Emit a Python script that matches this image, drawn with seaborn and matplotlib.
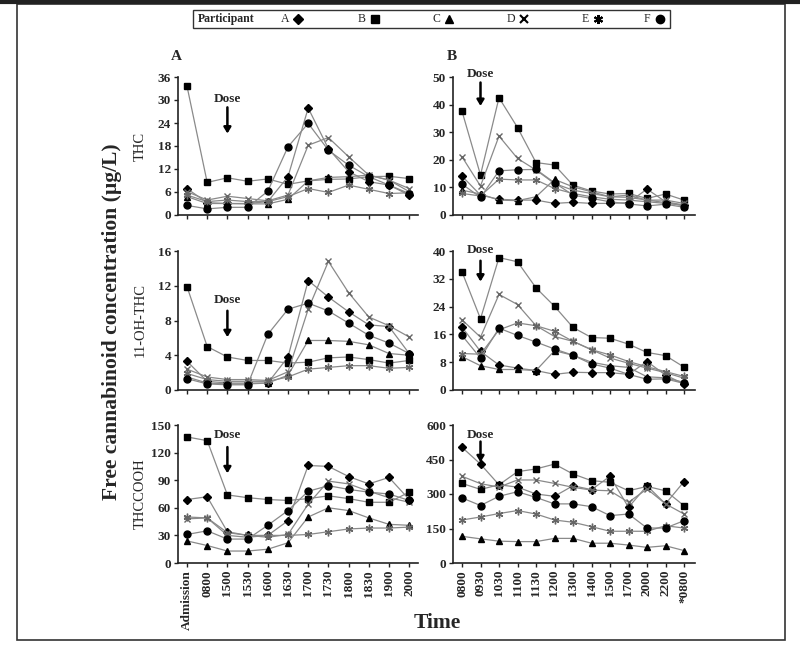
import matplotlib
matplotlib.use("Agg")
import matplotlib.pyplot as plt
from matplotlib.lines import Line2D
from matplotlib.patches import Rectangle
import seaborn as sns
import pandas as pd

sns.set_theme(style="ticks")
plt.rcParams['font.family'] = ['Liberation Serif', 'DejaVu Serif']
plt.rcParams['font.weight'] = 'bold'

participants = ["A", "B", "C", "D", "E", "F"]

times_A = ["Admission", "0800", "1500", "1530", "1600", "1630", "1700",
           "1730", "1800", "1830", "1900", "2000"]
times_B = ["0800", "0930", "1030", "1100", "1130", "1200", "1300", "1400",
           "1500", "1700", "2000", "2200", "*0800"]

# THC, panel A
thc_A = {
    "A": [6.9, 3.2, 3.0, 3.0, 3.5, 10.0, 27.9, 17.3, 11.3, 8.7, 7.8, 5.2],
    "B": [33.6, 8.5, 9.7, 8.8, 9.4, 8.0, 8.9, 9.3, 9.4, 10.0, 10.1, 9.5],
    "C": [4.8, 3.0, 3.0, 2.9, 2.9, 4.1, 8.9, 9.8, 10.0, 10.4, 9.1, 6.1],
    "D": [6.1, 3.9, 4.9, 4.3, 3.7, 5.2, 18.2, 20.2, 15.2, 10.4, 9.1, 6.9],
    "E": [5.2, 3.5, 3.9, 3.5, 3.5, 4.8, 6.9, 5.9, 7.8, 6.7, 5.6, 5.8],
    "F": [2.5, 1.6, 2.0, 2.0, 6.2, 17.8, 23.9, 16.9, 13.0, 10.0, 7.8, 5.6],
}
# THC, panel B
thc_B = {
    "A": [14.1, 7.2, 5.7, 5.4, 5.4, 4.2, 4.6, 4.2, 4.2, 4.5, 9.4, 4.8, 3.6],
    "B": [37.6, 14.5, 42.5, 31.7, 19.0, 18.1, 10.8, 8.7, 7.6, 7.8, 6.0, 7.6, 5.4],
    "C": [9.0, 7.6, 5.4, 5.2, 6.6, 12.9, 10.2, 8.4, 6.6, 7.2, 5.4, 4.5, 3.3],
    "D": [21.1, 10.5, 28.6, 20.5, 16.3, 11.4, 9.0, 7.8, 6.6, 6.4, 5.4, 5.4, 4.2],
    "E": [7.8, 6.9, 13.0, 12.7, 12.7, 9.6, 7.8, 6.6, 5.7, 5.4, 4.8, 4.2, 3.6],
    "F": [11.2, 6.4, 16.0, 16.4, 16.5, 11.7, 7.2, 6.0, 4.8, 4.0, 3.3, 3.9, 2.8],
}
# 11-OH-THC, panel A
oh_A = {
    "A": [3.3, 1.0, 0.8, 0.8, 0.8, 3.8, 12.6, 10.7, 9.0, 7.5, 7.3, 4.2],
    "B": [11.9, 5.0, 3.8, 3.4, 3.4, 3.1, 3.2, 3.7, 3.8, 3.5, 3.1, 3.4],
    "C": [1.5, 0.8, 0.7, 0.7, 0.8, 1.7, 5.7, 5.7, 5.6, 5.2, 4.2, 4.0],
    "D": [2.4, 1.5, 1.2, 1.2, 1.1, 2.1, 9.3, 14.8, 11.2, 8.4, 7.4, 6.1],
    "E": [1.9, 1.2, 1.0, 1.0, 1.0, 1.5, 2.4, 2.6, 2.8, 2.8, 2.5, 2.6],
    "F": [1.3, 0.7, 0.6, 0.6, 6.4, 9.3, 10.0, 9.1, 7.7, 6.3, 5.4, 4.2],
}
# 11-OH-THC, panel B
oh_B = {
    "A": [18.1, 11.1, 7.2, 6.3, 5.6, 4.5, 5.1, 5.0, 5.0, 4.5, 8.2, 4.3, 1.7],
    "B": [34.0, 20.5, 38.1, 36.9, 29.4, 24.1, 18.0, 15.1, 14.9, 13.2, 10.8, 9.9, 6.6],
    "C": [9.6, 7.0, 5.9, 5.9, 5.6, 11.3, 10.0, 8.0, 7.0, 6.5, 3.8, 3.5, 2.2],
    "D": [20.2, 15.2, 27.5, 24.6, 18.5, 15.4, 14.0, 11.6, 9.2, 7.7, 6.3, 5.0, 3.4],
    "E": [10.5, 10.3, 17.3, 19.3, 18.5, 16.9, 14.0, 11.6, 10.1, 8.2, 6.7, 5.3, 3.9],
    "F": [15.7, 9.2, 17.8, 15.7, 13.8, 11.8, 10.0, 7.5, 6.3, 4.5, 3.1, 3.2, 1.9],
}
# THCCOOH, panel A
cooh_A = {
    "A": [69, 72, 34, 30, 30, 46, 106, 105, 94, 86, 93, 69],
    "B": [137, 133, 74, 71, 69, 68, 70, 73, 70, 66, 66, 77],
    "C": [24, 19, 13, 13, 15, 22, 50, 60, 57, 49, 42, 41],
    "D": [48, 49, 33, 30, 28, 31, 64, 89, 86, 78, 71, 66],
    "E": [50, 49, 30, 28, 30, 30, 31, 34, 37, 38, 38, 39],
    "F": [31, 35, 26, 26, 41, 57, 78, 84, 80, 77, 75, 68],
}
# THCCOOH, panel B
cooh_B = {
    "A": [503, 430, 340, 330, 300, 290, 336, 319, 377, 242, 336, 257, 354],
    "B": [346, 320, 340, 397, 409, 430, 387, 358, 351, 314, 333, 314, 249],
    "C": [116, 105, 95, 93, 93, 107, 107, 86, 86, 78, 68, 75, 54],
    "D": [377, 345, 330, 361, 361, 346, 329, 317, 314, 264, 322, 257, 213],
    "E": [187, 200, 215, 228, 213, 187, 177, 158, 138, 138, 138, 162, 152],
    "F": [283, 250, 290, 310, 285, 257, 257, 245, 206, 213, 152, 152, 184],
}

row_labels = ["THC", "11-OH-THC", "THCCOOH"]

markers = {"A": "D", "B": "s", "C": "^", "D": "x", "E": (6, 2, 0), "F": "o"}
msizes = {"A": 4.2, "B": 5.0, "C": 5.0, "D": 5.0, "E": 5.5, "F": 5.0}
mcolors = {"A": "black", "B": "black", "C": "black", "D": "#666666",
           "E": "#666666", "F": "black"}

W, H = 800, 647
fig = plt.figure(figsize=(W / 100, H / 100), dpi=100)


def px_rect(x0, x1, ytop, ybot):
    return [x0 / W, 1 - ybot / H, (x1 - x0) / W, (ybot - ytop) / H]


rows_px = [(77, 215), (251, 390), (425, 563)]
colA = (178, 418)
colB = (453, 695)

panels = [
    [(thc_A, times_A, 36, 6), (thc_B, times_B, 50, 10)],
    [(oh_A, times_A, 16, 4), (oh_B, times_B, 40, 8)],
    [(cooh_A, times_A, 150, 30), (cooh_B, times_B, 600, 150)],
]

dose = [
    [(2, 0.84, 0.78, 0.59), (1, 1.02, 0.96, 0.79)],
    [(2, 0.65, 0.57, 0.38), (1, 1.01, 0.93, 0.78)],
    [(2, 0.93, 0.84, 0.65), (1, 0.93, 0.88, 0.73)],
]

axes = []
for r, (yt, yb) in enumerate(rows_px):
    for c, (x0, x1) in enumerate([colA, colB]):
        data, times, ymax, ystep = panels[r][c]
        ax = fig.add_axes(px_rect(x0, x1, yt, yb))
        n = len(times)
        for p in participants:
            df = pd.DataFrame({"pos": list(range(n)), "val": data[p]})
            sns.lineplot(data=df, x="pos", y="val", ax=ax, color="#8a8a8a",
                         linewidth=0.9, marker=markers[p],
                         markersize=msizes[p], markerfacecolor=mcolors[p],
                         markeredgecolor=mcolors[p], markeredgewidth=1.0,
                         zorder=3)
        first_px = 187 if c == 0 else 462
        step = 20.2 if c == 0 else 18.5
        lo = -(first_px - x0) / step
        hi = (n - 1) + (x1 - (first_px + (n - 1) * step)) / step
        ax.set_xlim(lo, hi)
        ax.set_ylim(0, ymax)
        ax.set_yticks(range(0, ymax + 1, ystep))
        ax.set_xticks(range(n))
        if r == 2:
            ax.set_xticklabels(times, rotation=90, fontsize=9.5,
                               fontweight="bold")
        else:
            ax.set_xticklabels([])
        for lab in ax.get_yticklabels():
            lab.set_fontweight("bold")
            lab.set_fontsize(9.5)
        ax.set_xlabel("")
        ax.set_ylabel("")
        sns.despine(ax=ax)
        for s in ["left", "bottom"]:
            ax.spines[s].set_linewidth(1.2)
            ax.spines[s].set_color("#222222")
        ax.tick_params(axis="both", length=3, width=1.0, color="#222222",
                       pad=2)
        ax.set_facecolor("none")
        # dose annotation
        xi, ty, ay0, ay1 = dose[r][c]
        ax.annotate("", xy=(xi, ay1), xytext=(xi, ay0),
                    xycoords=("data", "axes fraction"),
                    textcoords=("data", "axes fraction"),
                    arrowprops=dict(arrowstyle="-|>,head_length=0.5,head_width=0.3",
                                    color="black", lw=1.8,
                                    shrinkA=0, shrinkB=0,
                                    mutation_scale=7))
        ax.text(xi, ty, "Dose", transform=ax.get_xaxis_transform(),
                ha="center", va="center", fontsize=9.5, fontweight="bold",
                clip_on=False)
        axes.append(ax)

# Row labels
for label, yc in zip(row_labels, [146, 320, 494]):
    fig.text(140 / W, 1 - yc / H, label, rotation=90, ha="center",
             va="center", fontsize=10.5, fontweight="normal")

# Panel letters
fig.text(176 / W, 1 - 57 / H, "A", ha="center", va="center", fontsize=11,
         fontweight="bold")
fig.text(452 / W, 1 - 57 / H, "B", ha="center", va="center", fontsize=11,
         fontweight="bold")

# Axis titles
fig.text(112 / W, 1 - 322 / H, "Free cannabinoid concentration (\u00b5g/L)",
         rotation=90, ha="center", va="center", fontsize=15.5,
         fontweight="bold")
fig.text(437 / W, 1 - 623 / H, "Time", ha="center", va="center",
         fontsize=15.5, fontweight="bold")

# Outer frame
fig.add_artist(Rectangle((17 / W, 1 - 640 / H), (785 - 17) / W,
                         (640 - 4) / H, transform=fig.transFigure,
                         fill=False, edgecolor="#333333", linewidth=1.2))
fig.add_artist(Line2D([0, 1], [1 - 2 / H, 1 - 2 / H],
                      transform=fig.transFigure, color="#222222",
                      linewidth=3))

# Legend box
fig.add_artist(Rectangle((193 / W, 1 - 28 / H), (670 - 193) / W, 18 / H,
                         transform=fig.transFigure, fill=False,
                         edgecolor="#333333", linewidth=1.0))
fig.text(198 / W, 1 - 19 / H, "Participant", ha="left", va="center",
         fontsize=8.5, fontweight="bold")
leg_x = {"A": 285, "B": 362, "C": 436, "D": 511, "E": 585, "F": 647}
for p in participants:
    x = leg_x[p]
    fig.text(x / W, 1 - 19 / H, p, ha="center", va="center", fontsize=8.5,
             fontweight="normal")
    fig.add_artist(Line2D([(x + 13) / W], [1 - 19 / H],
                          transform=fig.transFigure, marker=markers[p],
                          markersize=msizes[p] + 1, color="black",
                          markeredgewidth=1.5 if p in ("D", "E") else 1.0,
                          linestyle="none"))

fig.savefig("out.png", dpi=100)
